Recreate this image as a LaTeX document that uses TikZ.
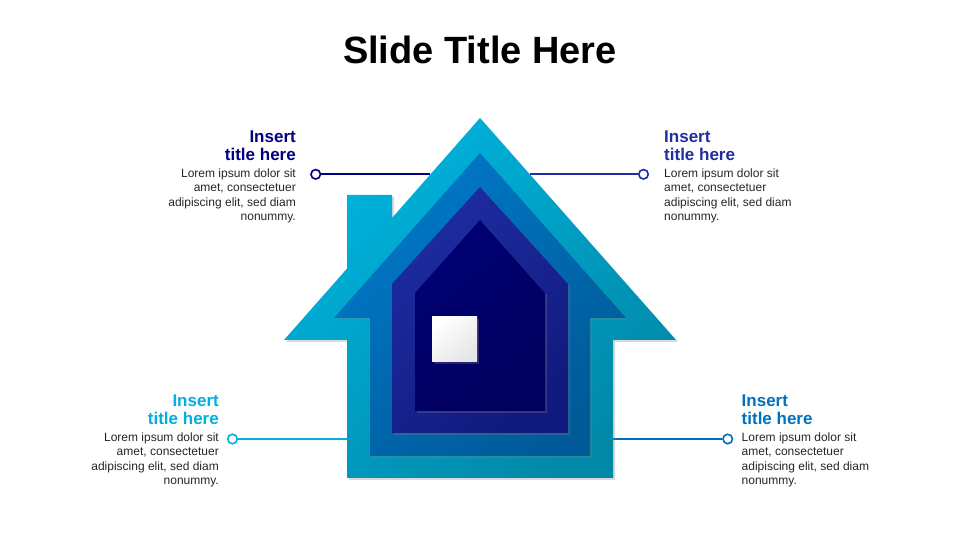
\documentclass[tikz,border=0pt]{standalone}
\usepackage{fontspec}
\setmainfont{Liberation Sans}
\usetikzlibrary{positioning,shadows}

\definecolor{navy}{HTML}{000080}
\definecolor{royal}{HTML}{1F2FA0}
\definecolor{sky}{HTML}{00B0E0}
\definecolor{ocean}{HTML}{0070C0}
\definecolor{txtgray}{HTML}{262626}
\definecolor{layAtop}{HTML}{00B4DE}
\definecolor{layAbot}{HTML}{0088A8}
\definecolor{layBtop}{HTML}{0078C8}
\definecolor{layBbot}{HTML}{005A98}
\definecolor{layCtop}{HTML}{1E2CA2}
\definecolor{layCbot}{HTML}{111A7E}
\definecolor{layDtop}{HTML}{000074}
\definecolor{layDbot}{HTML}{00005E}

\begin{document}
\begin{tikzpicture}[x=1pt, y=1pt,
  lay/.style={drop shadow={shadow xshift=2pt, shadow yshift=-2pt, opacity=0.3}},
  dot/.style={circle, draw=#1, fill=white, line width=1.6pt, minimum size=9.5pt, inner sep=0pt},
  head/.style={font=\bfseries\fontsize{17}{18}\selectfont, inner sep=0pt},
  txt/.style={font=\fontsize{12}{14.2}\selectfont, text=txtgray, inner sep=0pt}]
  \useasboundingbox (0,0) rectangle (960,540);

  \node[font=\bfseries\fontsize{38}{40}\selectfont, anchor=base] (title) at (480,476.5) {Slide Title Here};

  % ends of the connectors on the house
  \coordinate (tlEnd) at (430.3,365.7);
  \coordinate (trEnd) at (529.7,365.7);
  \coordinate (blEnd) at (347,101);
  \coordinate (brEnd) at (613,101);

  \node[dot=navy] (tlDot) at (315.7,365.7) {};
  \node[dot=royal] (trDot) at (643.5,365.7) {};
  \node[dot=sky] (blDot) at (232.5,101) {};
  \node[dot=ocean] (brDot) at (727.7,101) {};

  \draw[navy, line width=1.6pt] (tlDot) -- (tlEnd);
  \draw[royal, line width=1.6pt] (trDot) -- (trEnd);
  \draw[sky, line width=1.6pt] (blDot) -- (blEnd);
  \draw[ocean, line width=1.6pt] (brDot) -- (brEnd);

  % house
  \shade[lay, top color=layAtop, bottom color=layAbot, shading angle=40]
    (480,422) -- (392,322) -- (392,345) -- (347,345) -- (347,271.4) -- (284,200)
    -- (347,200) -- (347,62) -- (613,62) -- (613,200) -- (676,200) -- cycle;
  \shade[lay, top color=layBtop, bottom color=layBbot, shading angle=40]
    (480,387) -- (334,222) -- (370,222) -- (370,84) -- (590,84) -- (590,222) -- (626,222) -- cycle;
  \shade[lay, top color=layCtop, bottom color=layCbot, shading angle=40]
    (480,353) -- (392,256) -- (392,107) -- (568,107) -- (568,256) -- cycle;
  \shade[lay, top color=layDtop, bottom color=layDbot, shading angle=40]
    (480,320) -- (415,247) -- (415,129) -- (545,129) -- (545,247) -- cycle;
  \shade[lay, top color=white, bottom color=black!10, shading angle=40]
    (432,178) rectangle (477,223);

  % texts
  \node[head, text=navy, align=right, anchor=north east] (tlHead) at (296,409.5) {Insert\\title here};
  \node[txt, align=right, below=8pt of tlHead.south east, anchor=north east] (tlBody)
    {Lorem ipsum dolor sit\\amet, consectetuer\\adipiscing elit, sed diam\\nonummy.};

  \node[head, text=royal, align=left, anchor=north west] (trHead) at (664,409.5) {Insert\\title here};
  \node[txt, align=left, below=8pt of trHead.south west, anchor=north west] (trBody)
    {Lorem ipsum dolor sit\\amet, consectetuer\\adipiscing elit, sed diam\\nonummy.};

  \node[head, text=sky, align=right, anchor=north east] (blHead) at (219,145.5) {Insert\\title here};
  \node[txt, align=right, below=8pt of blHead.south east, anchor=north east] (blBody)
    {Lorem ipsum dolor sit\\amet, consectetuer\\adipiscing elit, sed diam\\nonummy.};

  \node[head, text=ocean, align=left, anchor=north west] (brHead) at (741.5,145.5) {Insert\\title here};
  \node[txt, align=left, below=8pt of brHead.south west, anchor=north west] (brBody)
    {Lorem ipsum dolor sit\\amet, consectetuer\\adipiscing elit, sed diam\\nonummy.};
\end{tikzpicture}
\end{document}
